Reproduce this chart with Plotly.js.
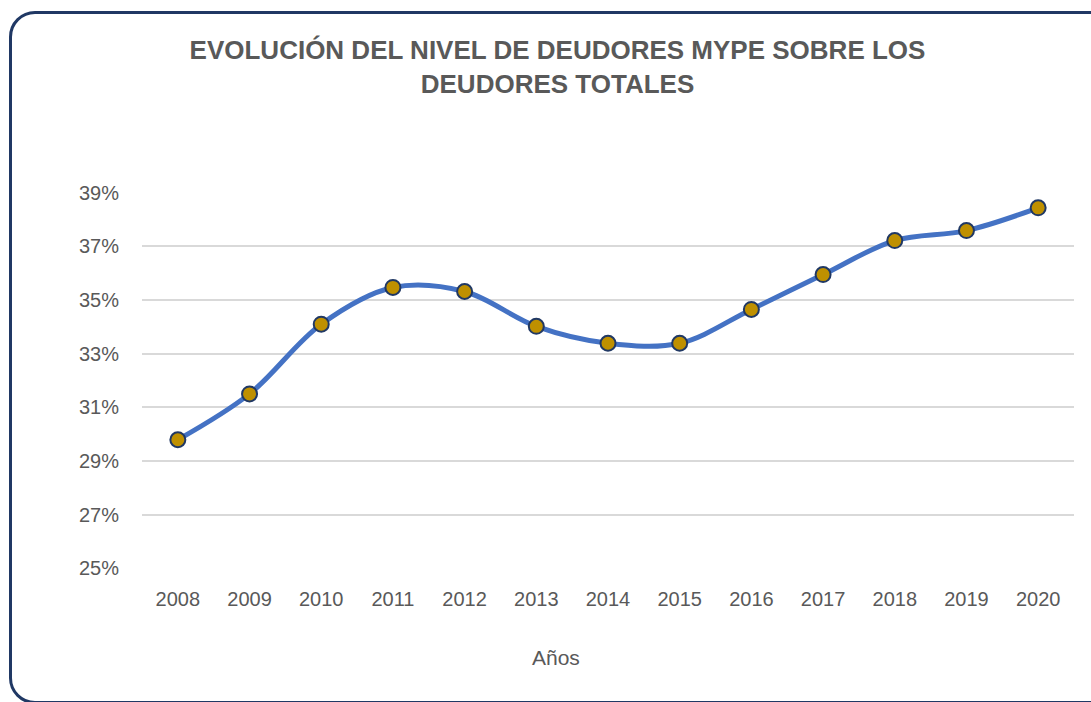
<!DOCTYPE html>
<html>
<head>
<meta charset="utf-8">
<script src="https://cdn.plot.ly/plotly-3.0.1.min.js"></script>
<style>
  html, body { margin: 0; padding: 0; background: #ffffff; overflow: hidden; }
  #frame {
    position: absolute; left: 9px; top: 11px; width: 1120px; height: 687px;
    border: 3px solid #203864; border-radius: 26px; box-sizing: content-box;
  }
  #chart { position: absolute; left: 0; top: 0; width: 1091px; height: 702px; }
</style>
</head>
<body>
<div id="frame"></div>
<div id="chart"></div>
<script>
const years = ['2008','2009','2010','2011','2012','2013','2014','2015','2016','2017','2018','2019','2020'];
const deudoresMype = [0.2979, 0.3150, 0.3410, 0.3547, 0.3532, 0.3402, 0.3339, 0.3339, 0.3465, 0.3595, 0.3722, 0.3759, 0.3844];
const yTicks = [0.25, 0.27, 0.29, 0.31, 0.33, 0.35, 0.37, 0.39];

const textColor = '#595959';
const font = 'Liberation Sans, Arial, sans-serif';

const trace = {
  x: years,
  y: deudoresMype,
  type: 'scatter',
  mode: 'lines+markers',
  line: { color: '#4472C4', width: 5, shape: 'spline', smoothing: 1 },
  marker: { color: '#BF9000', size: 15, line: { color: '#203864', width: 2 } },
  hoverinfo: 'x+y'
};

const layout = {
  width: 1091, height: 702,
  margin: { l: 142, r: 17, t: 192, b: 133 },
  paper_bgcolor: 'rgba(0,0,0,0)',
  plot_bgcolor: 'rgba(0,0,0,0)',
  showlegend: false,
  font: { family: font, color: textColor },
  title: {
    text: '<b>EVOLUCIÓN DEL NIVEL DE DEUDORES MYPE SOBRE LOS<br>DEUDORES TOTALES</b>',
    font: { family: font, size: 26, color: textColor },
    xref: 'container', x: 557.5 / 1091, xanchor: 'center',
    yref: 'container', y: 1 - 59 / 702, yanchor: 'middle'
  },
  xaxis: {
    type: 'category',
    range: [-0.5, 12.5],
    showgrid: false,
    zeroline: false,
    showline: false,
    ticks: 'outside', ticklen: 12, tickcolor: 'rgba(0,0,0,0)',
    tickfont: { family: font, size: 20, color: textColor },
    fixedrange: true
  },
  yaxis: {
    range: [0.2497, 0.3903],
    tickvals: yTicks,
    tickformat: '.0%',
    showgrid: true, gridcolor: '#D9D9D9', gridwidth: 2,
    zeroline: false, showline: false,
    ticks: 'outside', ticklen: 18, tickcolor: 'rgba(0,0,0,0)',
    tickfont: { family: font, size: 20, color: textColor },
    fixedrange: true
  },
  annotations: [{
    text: 'Años',
    xref: 'paper', x: (556 - 142) / 932, xanchor: 'center',
    yref: 'paper', y: -(657 - 569) / 377, yanchor: 'middle',
    showarrow: false,
    font: { family: font, size: 21, color: textColor }
  }]
};

Plotly.newPlot('chart', [trace], layout, { displayModeBar: false, staticPlot: true });
</script>
</body>
</html>
